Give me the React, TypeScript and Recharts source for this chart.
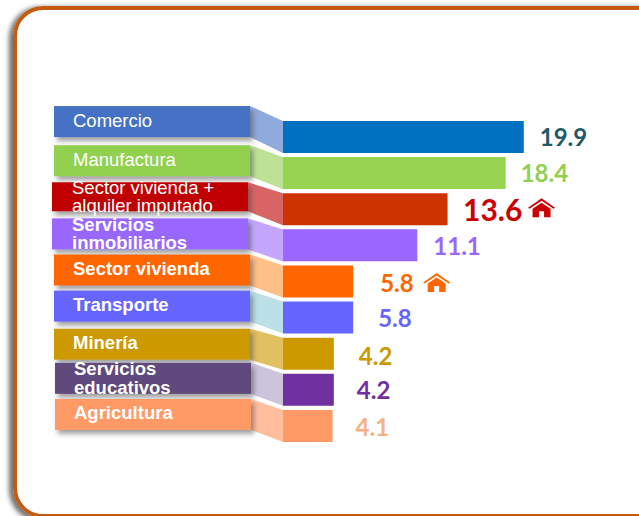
import { BarChart, Bar, XAxis, YAxis, LabelList, Cell } from 'recharts';

const categories = [
  'Comercio',
  'Manufactura',
  'Sector vivienda + alquiler imputado',
  'Servicios inmobiliarios',
  'Sector vivienda',
  'Transporte',
  'Minería',
  'Servicios educativos',
  'Agricultura',
];
const values = [19.9, 18.4, 13.6, 11.1, 5.8, 5.8, 4.2, 4.2, 4.1];

// colours per row
const barColors = ['#0070c0', '#96d452', '#cc3300', '#9966ff', '#ff6600', '#6666ff', '#cc9900', '#7030a0', '#ff9966'];
const boxColors = ['#4472c4', '#92d050', '#c00000', '#9966ff', '#ff6600', '#6666ff', '#cc9900', '#604a7b', '#ff9966'];
const linkColors = ['#8faadc', '#bde295', '#d96464', '#c4a6ff', '#ffc088', '#bbe0e8', '#e0c060', '#ccc3dc', '#ffbf9f'];
const valueColors = ['#215968', '#92d050', '#cc0000', '#9966ff', '#ff6600', '#6666ff', '#cc9900', '#7030a0', '#f4b183'];

// how each label is set
const labelLines = [
  ['Comercio'],
  ['Manufactura'],
  ['Sector vivienda +', 'alquiler imputado'],
  ['Servicios', 'inmobiliarios'],
  ['Sector vivienda'],
  ['Transporte'],
  ['Minería'],
  ['Servicios', 'educativos'],
  ['Agricultura'],
];
const labelBold = [false, false, false, true, true, true, true, true, true];

// box placement relative to the band of each row
const boxLeft = [-229, -229, -231, -231, -229, -229, -229, -228, -228];
const boxTop = [-31, -28, -27, -27, -27, -27, -25, -27, -27];
const boxHeight = [31, 31, 29, 31, 31, 31, 31, 31, 31];
const textInset = [19, 19, 20, 20, 19, 19, 19, 19, 19];

// value label placement
const valueGap = [16, 15, 15.5, 16, 27, 25, 25, 23, 23];
const valueRise = [0.5, 0.5, 1.5, 1.5, 2, 1, 3.5, 1.5, 1.5];
const valueSize = [24, 24, 30, 24, 24, 24, 24, 24, 24];
const houseGap = [0, 0, 65, 0, 43, 0, 0, 0, 0];
const houseRise = [0, 0, -12.5, 0, -10.5, 0, 0, 0, 0];

const chartData = categories.map((name, i) => ({ name, value: values[i] }));

function House({ x, y, color }: { x: number; y: number; color: string }) {
  return (
    <g transform={`translate(${x},${y})`} fill={color}>
      <path d="M0 9.5 L13.5 0 L27 9.5 L25.5 10.5 L13.5 2.5 L1.5 10.5 Z" />
      <path d="M4.5 10.5 L13.5 4.5 L22.5 10.5 V19 H16 V13 H11 V19 H4.5 Z" />
    </g>
  );
}

function CategoryTick({ x, y, index }: any) {
  const i = index as number;
  const left = x + boxLeft[i];
  const top = y + boxTop[i];
  const h = boxHeight[i];
  const right = left + 196;
  const lines = labelLines[i];
  const textX = left + textInset[i];
  const cy = top + h / 2;
  return (
    <g>
      <polygon
        points={`${right},${top} ${x},${y - 16} ${x},${y + 16} ${right},${top + h}`}
        fill={linkColors[i]}
      />
      <rect x={left} y={top} width={196} height={h} fill={boxColors[i]} filter="url(#boxShadow)" />
      {lines.map((line, n) => (
        <text
          key={line}
          x={textX}
          y={cy + 6 + (n - (lines.length - 1) / 2) * 18.5 - (lines.length === 1 ? 1 : 0)}
          fill="#ffffff"
          fontFamily="Liberation Sans"
          fontSize={18.5}
          fontWeight={labelBold[i] ? 700 : 400}
        >
          {line}
        </text>
      ))}
    </g>
  );
}

function ValueLabel({ x, y, width, height, value, index }: any) {
  const i = index as number;
  const endX = x + width;
  const cy = y + height / 2 + valueRise[i];
  const size = valueSize[i];
  return (
    <g>
      <text
        x={endX + valueGap[i]}
        y={cy + size * 0.34}
        fill={valueColors[i]}
        fontFamily="Lato"
        fontWeight={700}
        fontSize={size}
      >
        {Number(value).toFixed(1)}
      </text>
      {houseGap[i] > 0 && (
        <House x={endX + valueGap[i] + houseGap[i]} y={cy + houseRise[i]} color={valueColors[i]} />
      )}
    </g>
  );
}

export default function App() {
  return (
    <div
      style={{
        position: 'fixed',
        left: 0,
        top: 0,
        width: 639,
        height: 516,
        overflow: 'hidden',
        background: '#ffffff',
      }}
    >
      <div
        style={{
          position: 'absolute',
          left: 13,
          top: 6,
          width: 760,
          height: 512,
          boxSizing: 'border-box',
          border: '4px solid #c55a11',
          borderRadius: 30,
          boxShadow: '-3px 2px 5px 1px #707070',
        }}
      />
      <div style={{ position: 'absolute', left: 0, top: 0 }}>
        <BarChart
          layout="vertical"
          width={639}
          height={516}
          data={chartData}
          barCategoryGap={4}
          margin={{ top: 119, right: 114, bottom: 72, left: 0 }}
        >
          <defs>
            <filter id="boxShadow" x="-10%" y="-30%" width="125%" height="170%">
              <feDropShadow dx="3" dy="4" stdDeviation="2.5" floodColor="#404040" floodOpacity="0.5" />
            </filter>
          </defs>
          <XAxis type="number" domain={[0, 20]} hide />
          <YAxis
            type="category"
            dataKey="name"
            width={283}
            axisLine={false}
            tickLine={false}
            tickSize={0}
            tickMargin={0}
            interval={0}
            tick={<CategoryTick />}
          />
          <Bar dataKey="value" isAnimationActive={false} barSize={32}>
            {chartData.map((d, i) => (
              <Cell key={d.name} fill={barColors[i]} />
            ))}
            <LabelList dataKey="value" content={<ValueLabel />} />
          </Bar>
        </BarChart>
      </div>
    </div>
  );
}
